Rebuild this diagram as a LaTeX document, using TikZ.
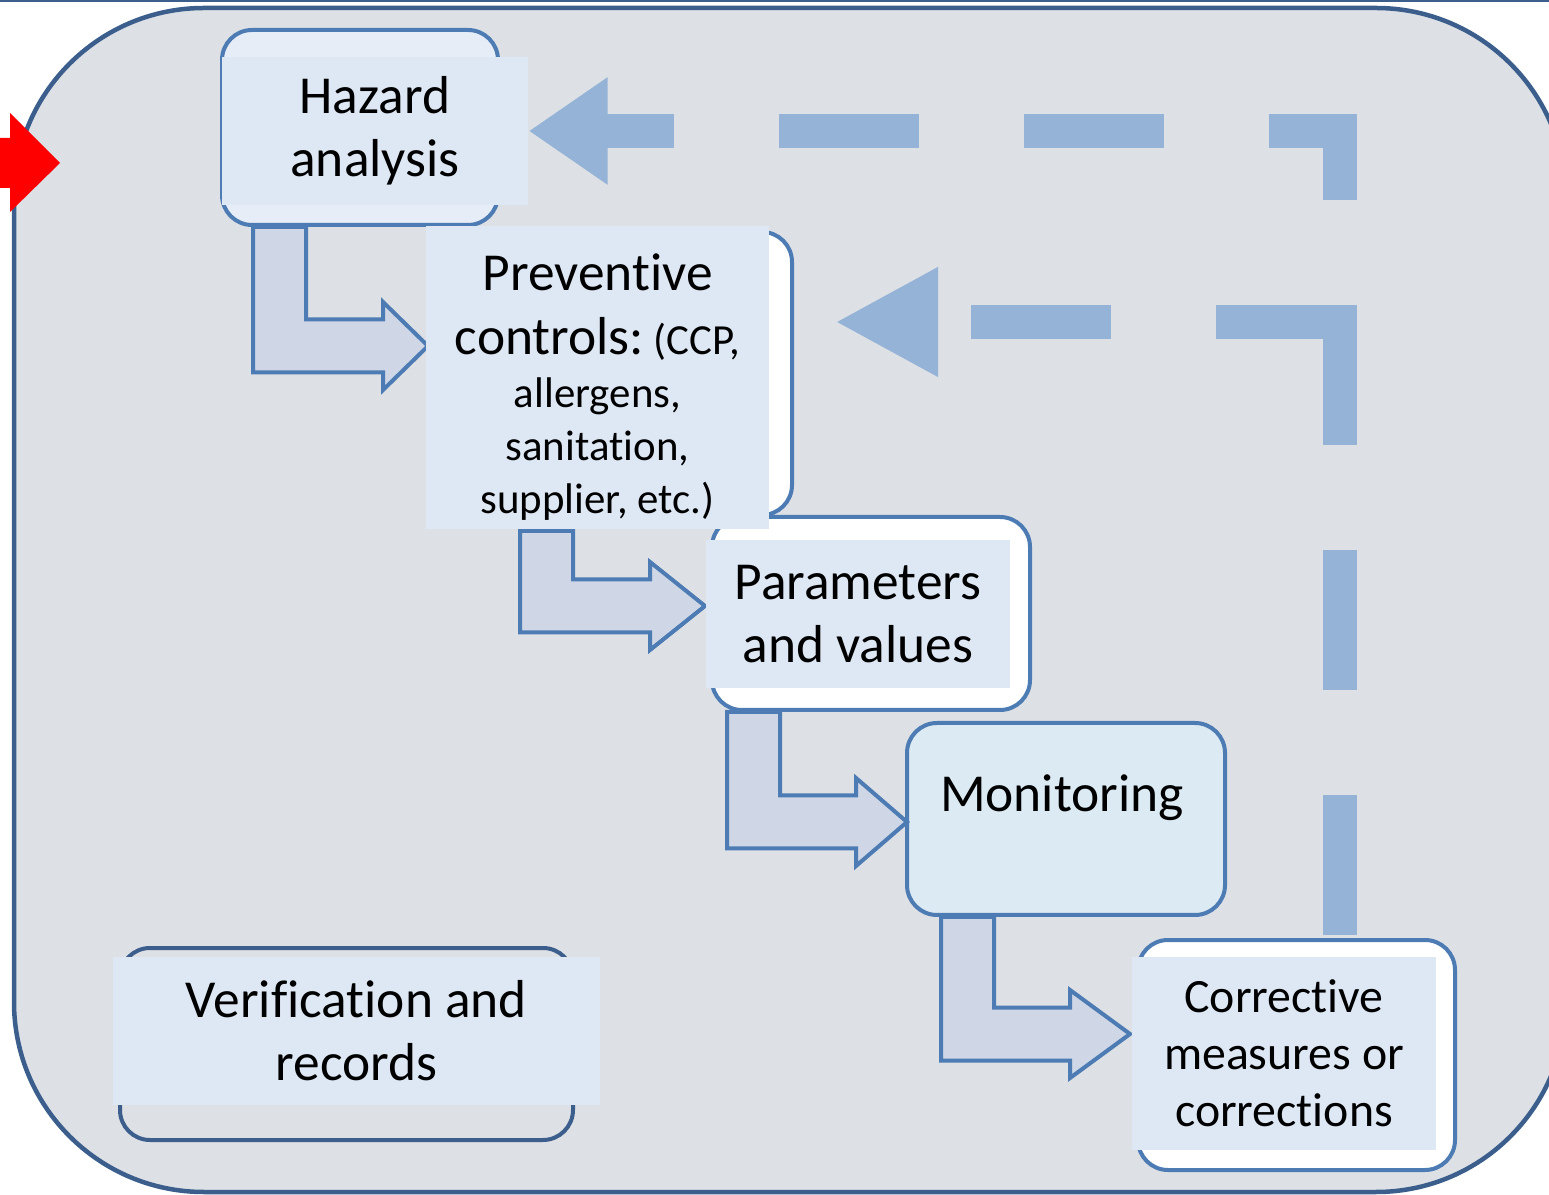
\documentclass[tikz,border=0pt]{standalone}
\usepackage{fontspec}
\setmainfont{Carlito}[Ligatures=NoCommon]
\usetikzlibrary{arrows.meta, calc}

\definecolor{panelgray}{HTML}{DDE0E5}
\definecolor{paneledge}{HTML}{3B5E8C}
\definecolor{boxedge}{HTML}{4D7BB3}
\definecolor{textfill}{HTML}{DEE8F4}
\definecolor{hazfill}{HTML}{E6EDF7}
\definecolor{arrowfill}{HTML}{CFD7E6}
\definecolor{loopblue}{HTML}{95B3D7}
\definecolor{monfill}{HTML}{DCEBF3}

\newcommand{\smalltxt}{\fontsize{12.2}{14.7}\selectfont}

% bent block arrow: shaft top-left corner, tip, head length
\newcommand{\bentarrow}[3]{%
  \draw[bentblock] let \p1=(#1), \p2=(#2) in
    (\x1,\y1) -- (\x1,\y2-2.65mm) -- (\x2-#3,\y2-2.65mm) -- (\x2-#3,\y2-4.4mm)
    -- (\x2,\y2) -- (\x2-#3,\y2+4.4mm) -- (\x2-#3,\y2+2.65mm)
    -- (\x1+5.3mm,\y2+2.65mm) -- (\x1+5.3mm,\y1) -- cycle;}

\begin{document}
\begin{tikzpicture}[x=0.1mm, y=-0.1mm,
  panel/.style={draw=paneledge, line width=0.45mm, fill=panelgray, rounded corners=19mm},
  stepframe/.style={draw=boxedge, line width=0.4mm, rounded corners=3mm, inner sep=0pt},
  steplabel/.style={fill=textfill, inner sep=0pt, align=center, font=\fontsize{15.2}{18}\selectfont},
  bentblock/.style={draw=boxedge, line width=0.4mm, fill=arrowfill, line join=miter},
  loopline/.style={draw=loopblue, line width=3.4mm, dash pattern=on 14mm off 10.5mm}
]
\useasboundingbox (0,0) rectangle (1549,1195);

%% Background panel
\draw[panel] (14,8) rectangle (1566,1192);
\draw[paneledge, line width=0.25mm] (0,1) -- (1549,1);
\fill[red] (-20,138) -- (10,138) -- (10,113) -- (60,163) -- (10,212) -- (10,188) -- (-20,188) -- cycle;

%% Frames
\node[stepframe, fill=hazfill, minimum width=27.6mm, minimum height=19.5mm] (hazbox) at (360,127.5) {};
\node[stepframe, fill=white, minimum width=36mm, minimum height=28.3mm] (prevbox) at (612,373.5) {};
\node[stepframe, fill=white, minimum width=31.8mm, minimum height=19.3mm] (parambox) at (871,613.5) {};
\node[stepframe, fill=monfill, minimum width=31.8mm, minimum height=19.2mm] (monbox) at (1066,819) {};
\node[stepframe, fill=white, minimum width=31.7mm, minimum height=23mm] (corrbox) at (1296.5,1055) {};
\node[stepframe, draw=paneledge, fill=panelgray, minimum width=45.3mm, minimum height=19.2mm] (verifbox) at (346.5,1044) {};

%% Step arrows
\bentarrow{$(hazbox.south west)+(33,0)$}{428,346}{4.5mm}
\bentarrow{$(prevbox.south west)+(90,14)$}{705,606}{5.5mm}
\bentarrow{$(parambox.south west)+(17,0)$}{907,822}{5.1mm}
\bentarrow{$(monbox.south west)+(36,0)$}{1130,1034}{6mm}

%% Labels
\node[steplabel, minimum width=30.6mm, minimum height=14.8mm] (haz) at (375,131) {Hazard\\analysis};
\node[steplabel, minimum width=34.3mm, minimum height=30.3mm] (prev) at (597.5,377.5)
  {\rule{0pt}{16pt}Preventive\\controls:{\smalltxt\ (CCP,}\\[-2.9pt]
   \smalltxt allergens,\\[-2.9pt] \smalltxt sanitation,\\[-2.9pt] \smalltxt supplier, etc.)};
\node[steplabel, minimum width=30.4mm, minimum height=14.8mm] (param) at (858,614) {Parameters\\and values};
\node[steplabel, fill=none] (mon) at (1062,798) {Monitoring};
\node[steplabel, minimum width=30.4mm, minimum height=19.3mm, font=\fontsize{13.6}{16.2}\selectfont] (corr) at (1284,1053.5) {Corrective\\measures or\\corrections};
\node[steplabel, minimum width=48.7mm, minimum height=14.8mm] (verif) at (356.5,1031) {Verification and\\records};

%% Feedback loops
\coordinate (loopstart) at (1340,935);
\coordinate (loopback) at (1356,322);
\coordinate (looptip) at (835,322);
\draw[loopline, -{Triangle[length=7.9mm, width=10.2mm]}] (loopstart) |- (haz.east);
\draw[loopline, -{Triangle[length=10.3mm, width=10.2mm]}] (loopback) -- (looptip);
\end{tikzpicture}
\end{document}
